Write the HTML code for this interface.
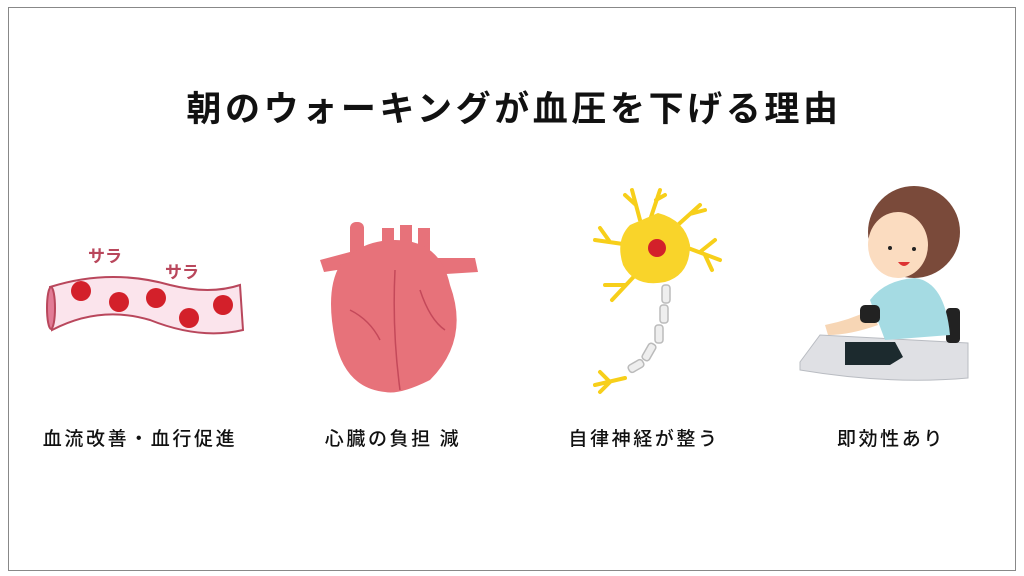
<!DOCTYPE html>
<html><head><meta charset="utf-8"><style>
body{margin:0;width:1024px;height:576px;background:#fff;overflow:hidden;font-family:"Liberation Sans","Noto Sans CJK JP",sans-serif}
</style></head><body>
<svg width="1024" height="576" xmlns="http://www.w3.org/2000/svg" style="position:absolute;left:0;top:0">
<rect x="8.5" y="7.5" width="1007" height="563" fill="#fff" stroke="#888" stroke-width="1"/>
<text x="514" y="121" text-anchor="middle" font-family="Noto Sans CJK JP, sans-serif" font-weight="bold" font-size="35" letter-spacing="3.6" fill="#111">朝のウォーキングが血圧を下げる理由</text>
<g font-family="Noto Sans CJK JP, sans-serif" font-size="19" fill="#111" text-anchor="middle" letter-spacing="2.6" font-weight="500">
<text x="140" y="445">血流改善・血行促進</text>
<text x="393" y="445">心臓の負担 減</text>
<text x="644" y="445">自律神経が整う</text>
<text x="891" y="445">即効性あり</text>
</g>
<!-- vessel -->
<text x="88" y="262" font-family="Noto Sans CJK JP, sans-serif" font-weight="bold" font-size="17" fill="#b9475c">サラ</text>
<text x="165" y="278" font-family="Noto Sans CJK JP, sans-serif" font-weight="bold" font-size="17" fill="#b9475c">サラ</text>
<path d="M50 287 Q110 268 170 285 Q210 295 240 285 L243 330 Q200 340 150 320 Q100 305 52 330 Z" fill="#fbe4ec" stroke="#b9475c" stroke-width="2"/>
<ellipse cx="51" cy="308" rx="4" ry="21" fill="#e27b95" stroke="#b9475c" stroke-width="2"/>
<g fill="#d3202a"><circle cx="81" cy="291" r="10"/><circle cx="119" cy="302" r="10"/><circle cx="156" cy="298" r="10"/><circle cx="189" cy="318" r="10"/><circle cx="223" cy="305" r="10"/></g>
<!-- heart -->
<g fill="#e7727a">
<rect x="350" y="222" width="14" height="50" rx="6"/>
<rect x="382" y="228" width="12" height="30"/><rect x="400" y="225" width="12" height="30"/><rect x="418" y="228" width="12" height="30"/>
<path d="M320 260 L350 252 L350 268 L324 272Z"/>
<path d="M420 258 L475 258 L478 272 L430 275Z"/>
<path d="M395 240 Q440 240 450 285 Q470 340 430 380 Q400 395 385 392 Q345 388 335 340 Q325 290 340 265 Q360 240 395 240Z"/>
</g>
<g stroke="#c4495a" stroke-width="1.5" fill="none"><path d="M395 270 Q392 330 400 390"/><path d="M350 310 Q370 320 380 340"/><path d="M420 290 Q430 320 445 330"/></g>
<!-- neuron -->
<g stroke="#f7cf1a" stroke-width="4" fill="none" stroke-linecap="round">
<path d="M640 220 L632 190 M636 205 L625 195 M650 220 L660 190 M656 200 L665 195"/>
<path d="M630 245 L595 240 M610 242 L600 228"/>
<path d="M680 245 L720 260 M700 252 L715 240 M705 255 L712 270"/>
<path d="M640 270 L612 300 M625 285 L605 285"/>
<path d="M670 232 L700 205 M690 214 L705 210"/>
<path d="M625 378 L595 385 M610 382 L600 372 M610 382 L600 392"/>
</g>
<path d="M658 213 Q685 220 690 245 Q690 275 665 282 Q635 288 623 265 Q615 240 630 225Z" fill="#f9d42a"/>
<circle cx="657" cy="248" r="9" fill="#d3202a"/>
<g fill="#eee" stroke="#bbb" stroke-width="1.5">
<rect x="662" y="285" width="8" height="18" rx="3"/><rect x="660" y="305" width="8" height="18" rx="3"/><rect x="655" y="325" width="8" height="18" rx="3"/><rect x="645" y="343" width="8" height="18" rx="3" transform="rotate(30 649 352)"/><rect x="632" y="358" width="8" height="16" rx="3" transform="rotate(60 636 366)"/>
</g>
<!-- person -->
<path d="M800 362 L820 335 L968 343 L968 378 Q890 385 800 370Z" fill="#dfe0e4" stroke="#b9bcc2"/>
<path d="M845 342 L895 342 L903 357 L890 365 L845 365Z" fill="#1c2a2e"/>
<rect x="946" y="308" width="14" height="35" rx="4" fill="#222"/>
<path d="M870 300 Q885 280 915 278 Q945 282 950 335 L885 340Z" fill="#a5dbe3"/>
<path d="M825 325 Q850 320 870 310 L878 325 Q850 335 828 335Z" fill="#f7d6b5"/>
<rect x="860" y="305" width="20" height="18" rx="5" fill="#222"/>
<ellipse cx="914" cy="232" rx="46" ry="46" fill="#7a4a3a"/>
<ellipse cx="898" cy="245" rx="30" ry="33" fill="#fbdcc0"/>
<circle cx="890" cy="248" r="2" fill="#222"/><circle cx="914" cy="249" r="2" fill="#222"/>
<path d="M898 262 Q904 270 910 262" fill="#d33" />
</svg>
</body></html>
